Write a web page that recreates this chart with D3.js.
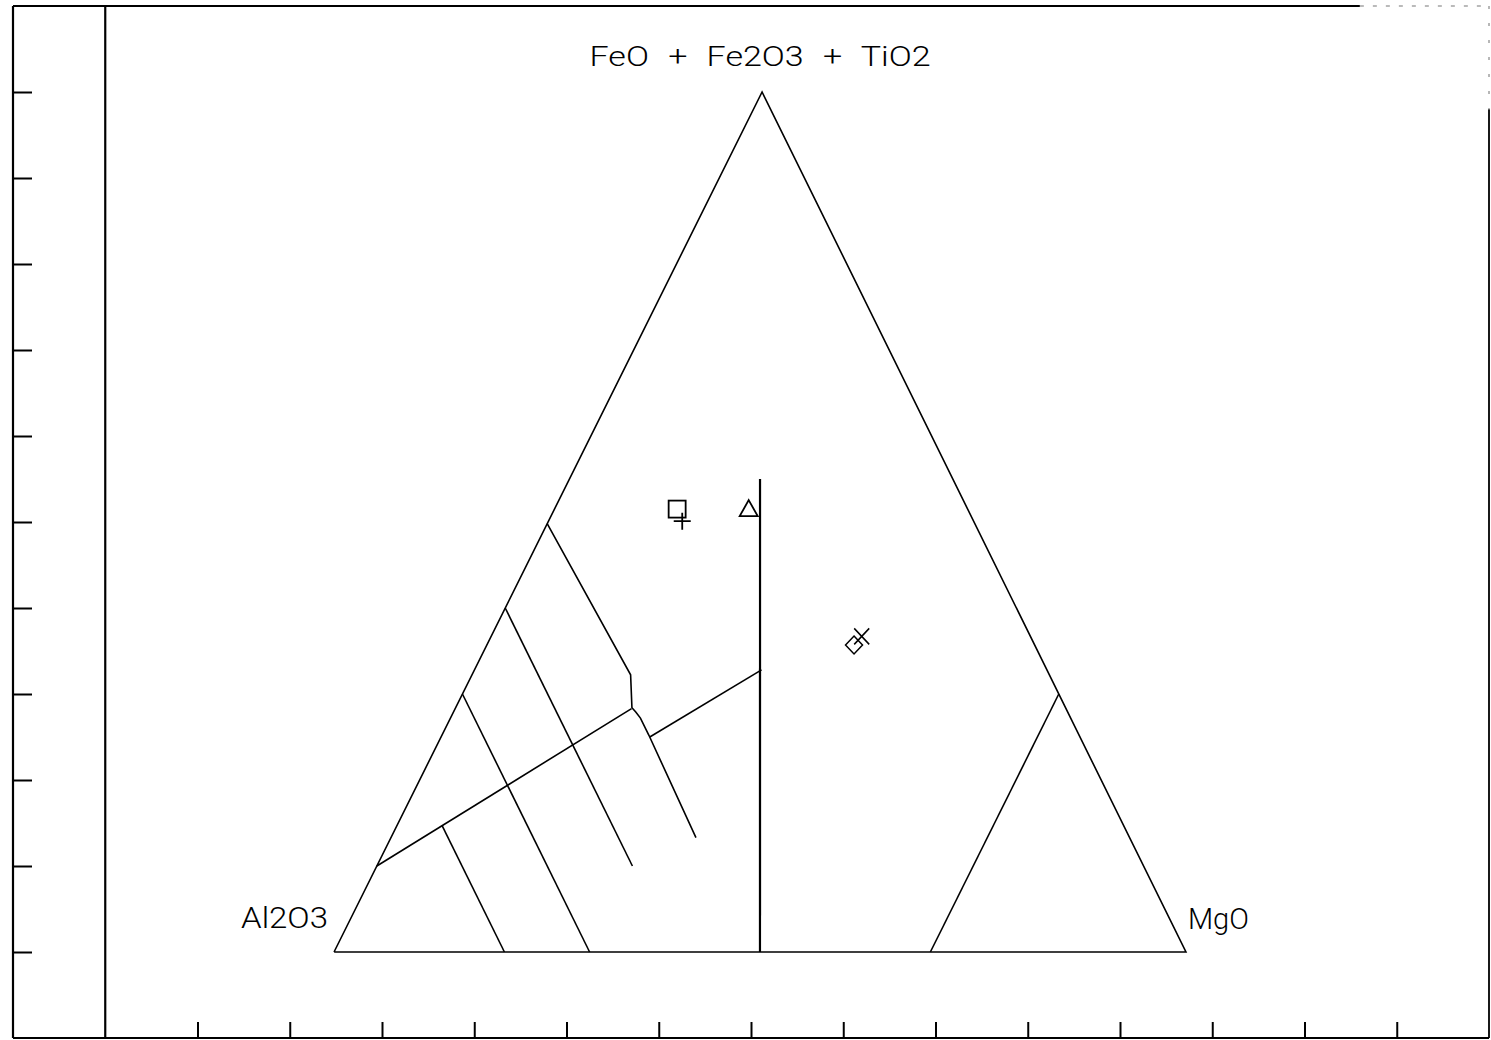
<!DOCTYPE html>
<html>
<head>
<meta charset="utf-8">
<script src="https://cdn.jsdelivr.net/npm/d3@7"></script>
<style>
  html, body { margin: 0; padding: 0; background: #fff; }
  svg { display: block; }
  text { font-family: Roboto, "Liberation Sans", sans-serif; font-weight: 300; fill: #000; }
</style>
</head>
<body>
<script>
// Jensen cation plot: apices Al2O3 (left), FeO+Fe2O3+TiO2 (top), MgO (right).
// All compositions are [Al, Fe+Ti, Mg] in percent.

const apexLabels = ["Al2O3", "FeO + Fe2O3 + TiO2", "MgO"];

// Frame tick positions (plot units)
const yTicks = [1, 2, 3, 4, 5, 6, 7, 8, 9, 10, 11];
const xTicks = [2, 3, 4, 5, 6, 7, 8, 9, 10, 11, 12, 13, 14, 15];

// Field boundary lines
const lineAlMg = [[50, 0, 50], [22.63, 55, 22.37]];
const lineKomatiite = [[30, 0, 70], [0, 30, 70]];
const lineThCaLeft = [[90, 10, 0], [51.0, 28.3, 20.7]];
const lineThCaRight = [[50.5, 25.0, 24.5], [33.5, 32.8, 33.7]];
const lineAl50 = [[50.2, 49.8, 0], [49.1, 32.2, 18.6], [50.9, 28.4, 20.7],
                  [50.7, 27.9, 21.4], [50.5, 27.2, 22.3], [50.5, 25.2, 24.3],
                  [50.9, 13.3, 35.8]];
const lineAl60 = [[60, 40, 0], [60, 10, 30]];
const lineAl70 = [[70, 30, 0], [70, 0, 30]];
const lineAl80 = [[80, 14.7, 5.3], [80, 0, 20]];

// Sample compositions
const sampleSquare = [34.1, 51.5, 14.4];
const samplePlus = [34.2, 50.1, 15.7];
const sampleTriangle = [25.7, 51.5, 22.8];
const sampleDiamond = [21.2, 35.7, 43.1];
const sampleCross = [19.8, 36.7, 43.5];

const W = 1491, H = 1040;
const svg = d3.select("body").append("svg").attr("width", W).attr("height", H);

const x = d3.scaleLinear().domain([0, 16]).range([13, 1489]);
const y = d3.scaleLinear().domain([0, 12]).range([1038, 6]);

// Triangle corners in plot units
const cornerAl = [3.48, 1], cornerFe = [8.12, 11], cornerMg = [12.715, 1];
function proj(c) {
  const s = c[0] + c[1] + c[2];
  const a = c[0] / s, f = c[1] / s, m = c[2] / s;
  const px = a * cornerAl[0] + f * cornerFe[0] + m * cornerMg[0];
  const py = a * cornerAl[1] + f * cornerFe[1] + m * cornerMg[1];
  return [x(px), y(py)];
}
const line = d3.line().x(d => proj(d)[0]).y(d => proj(d)[1]);

// Frame
const frame = svg.append("g").attr("stroke", "#000").attr("fill", "none");
const yAxis = d3.axisRight(y).tickValues(yTicks).tickSize(19).tickFormat("");
const gy = svg.append("g").attr("transform", `translate(${x(0)},0)`).call(yAxis);
const xAxis = d3.axisTop(x).tickValues(xTicks).tickSize(16).tickFormat("");
const gx = svg.append("g").attr("transform", `translate(0,${y(0)})`).call(xAxis);
[gy, gx].forEach(g => {
  g.select(".domain").remove();
  g.selectAll(".tick line").attr("stroke", "#000").attr("stroke-width", 2);
});
frame.append("line").attr("x1", x(0)).attr("x2", x(0)).attr("y1", y(12)).attr("y2", y(0)).attr("stroke-width", 2.2);
frame.append("line").attr("x1", x(0)).attr("x2", x(16)).attr("y1", y(0)).attr("y2", y(0)).attr("stroke-width", 2.2);
frame.append("line").attr("x1", x(0)).attr("x2", x(14.6)).attr("y1", y(12)).attr("y2", y(12)).attr("stroke-width", 2);
frame.append("line").attr("x1", x(14.6)).attr("x2", x(16)).attr("y1", y(12)).attr("y2", y(12))
  .attr("stroke-width", 1.2).attr("stroke", "#777").attr("stroke-dasharray", "4 9");
frame.append("line").attr("x1", x(16)).attr("x2", x(16)).attr("y1", y(10.8)).attr("y2", y(0)).attr("stroke-width", 1.8);
frame.append("line").attr("x1", x(16)).attr("x2", x(16)).attr("y1", y(12)).attr("y2", y(10.8))
  .attr("stroke-width", 1.2).attr("stroke", "#888").attr("stroke-dasharray", "3 14");
frame.append("line").attr("x1", x(1)).attr("x2", x(1)).attr("y1", y(12)).attr("y2", y(0)).attr("stroke-width", 2.2);

// Triangle outline
const g = svg.append("g").attr("fill", "none").attr("stroke", "#000");
g.append("path")
  .attr("d", line([[100, 0, 0], [0, 100, 0], [0, 0, 100], [100, 0, 0]]))
  .attr("stroke-width", 1.6).attr("stroke-linejoin", "miter");

// Field boundaries
[lineKomatiite, lineThCaLeft, lineThCaRight, lineAl50, lineAl60, lineAl70, lineAl80]
  .forEach(l => g.append("path").attr("d", line(l)).attr("stroke-width", 1.6));
g.append("path").attr("d", line(lineAlMg)).attr("stroke-width", 2.2);

// Sample symbols
const sym = svg.append("g").attr("fill", "none").attr("stroke", "#000").attr("stroke-width", 1.8);
{
  const [cx, cy] = proj(sampleSquare);
  sym.append("rect").attr("x", cx - 8.5).attr("y", cy - 8.5).attr("width", 17).attr("height", 17);
}
{
  const [cx, cy] = proj(samplePlus);
  sym.append("path").attr("d", `M${cx - 8.5},${cy}H${cx + 8.5}M${cx},${cy - 8.5}V${cy + 8.5}`);
}
{
  const [cx, cy] = proj(sampleTriangle);
  sym.append("path").attr("d", `M${cx},${cy - 9}L${cx + 9},${cy + 7}L${cx - 9},${cy + 7}Z`);
}
{
  const [cx, cy] = proj(sampleDiamond);
  sym.append("path").attr("d", `M${cx},${cy - 9}L${cx + 8.5},${cy}L${cx},${cy + 9}L${cx - 8.5},${cy}Z`).attr("stroke-width", 1.5);
}
{
  const [cx, cy] = proj(sampleCross);
  sym.append("path").attr("d", `M${cx - 7.5},${cy - 8}L${cx + 7.5},${cy + 8}M${cx + 7.5},${cy - 8}L${cx - 7.5},${cy + 8}`).attr("stroke-width", 1.5);
}

// Apex labels
const pAl = proj([100, 0, 0]), pFe = proj([0, 100, 0]), pMg = proj([0, 0, 100]);
svg.append("text").attr("x", pFe[0] - 2).attr("y", 66).attr("text-anchor", "middle")
  .attr("font-size", 28).attr("word-spacing", 9)
  .attr("textLength", 341).attr("lengthAdjust", "spacingAndGlyphs")
  .text(apexLabels[1]);
svg.append("text").attr("x", pAl[0] - 93).attr("y", 928)
  .attr("font-size", 30).attr("textLength", 87).attr("lengthAdjust", "spacingAndGlyphs")
  .text(apexLabels[0]);
svg.append("text").attr("x", pMg[0] + 2).attr("y", 929)
  .attr("font-size", 30).attr("textLength", 61).attr("lengthAdjust", "spacingAndGlyphs")
  .text(apexLabels[2]);
</script>
</body>
</html>
